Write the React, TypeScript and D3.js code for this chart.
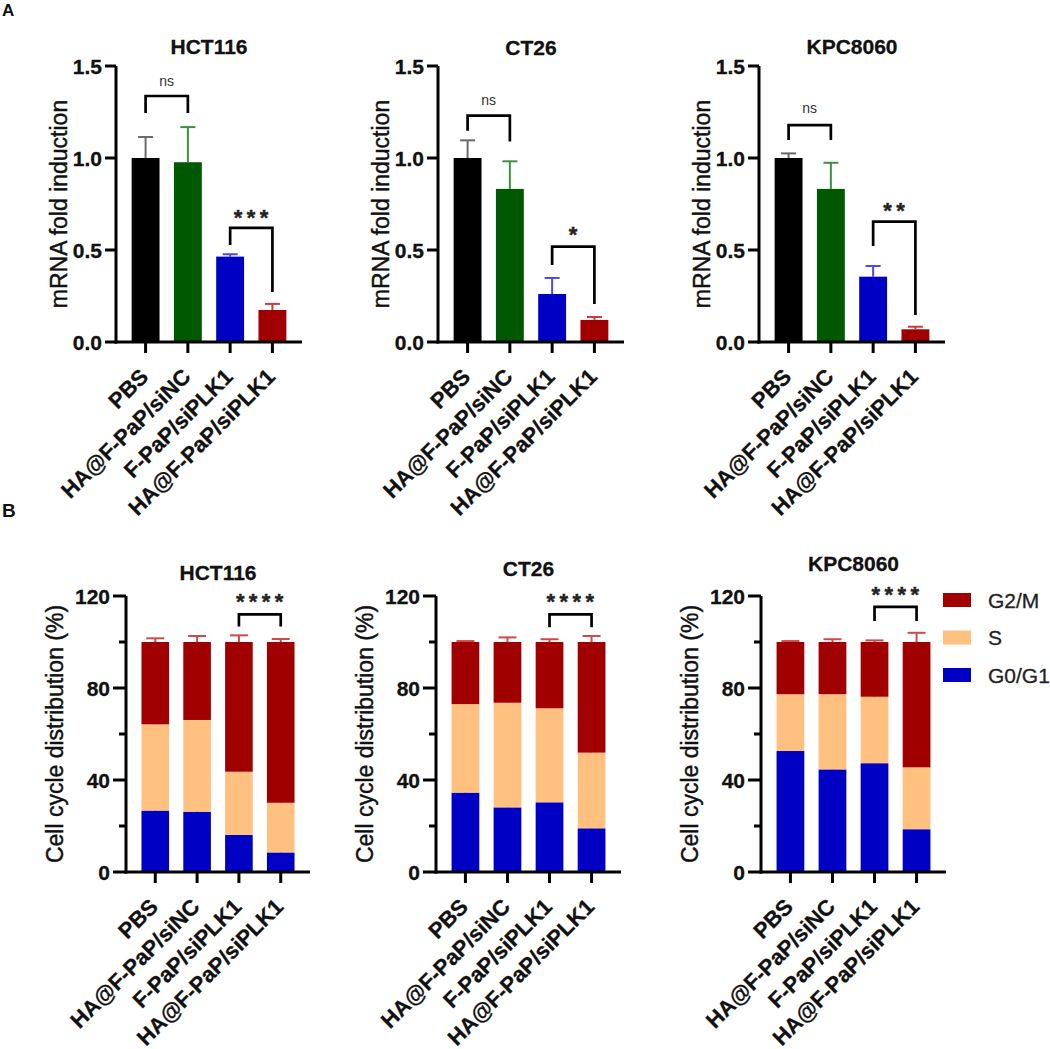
import React from 'react';
import * as d3 from 'd3';

// ---------- data ----------
const groups = ['PBS', 'HA@F-PaP/siNC', 'F-PaP/siPLK1', 'HA@F-PaP/siPLK1'];
const cellLines = ['HCT116', 'CT26', 'KPC8060'];

const barColors = ['#000000', '#005800', '#0000c4', '#a00000'];
const barErrColors = ['#6a6a6a', '#3f8f3f', '#4a4af0', '#cc3a3a'];

// Panel A: mRNA fold induction (mean, SD)
const mrnaHCT116 = [1.0, 0.977, 0.464, 0.174];
const mrnaHCT116SD = [0.114, 0.191, 0.013, 0.033];
const mrnaCT26 = [1.0, 0.832, 0.261, 0.12];
const mrnaCT26SD = [0.096, 0.15, 0.087, 0.016];
const mrnaKPC8060 = [1.0, 0.832, 0.355, 0.069];
const mrnaKPC8060SD = [0.025, 0.142, 0.058, 0.014];
const mrnaTicks = [0, 0.5, 1.0, 1.5];

// significance brackets panel A
const sigA_HCT116 = [
  { a: 0, b: 1, top: 1.337, l: 1.245, r: 1.245, ly: 1.42, label: 'ns' },
  { a: 2, b: 3, top: 0.62, l: 0.527, r: 0.272, ly: 0.70, label: '***' },
];
const sigA_CT26 = [
  { a: 0, b: 1, top: 1.23, l: 1.148, r: 1.089, ly: 1.315, label: 'ns' },
  { a: 2, b: 3, top: 0.518, l: 0.418, r: 0.207, ly: 0.609, label: '*' },
];
const sigA_KPC8060 = [
  { a: 0, b: 1, top: 1.179, l: 1.098, r: 1.098, ly: 1.27, label: 'ns' },
  { a: 2, b: 3, top: 0.654, l: 0.522, r: 0.147, ly: 0.739, label: '**' },
];

// Panel B: cell cycle distribution (%)
const phases = ['G0/G1', 'S', 'G2/M'];
const phaseColors = ['#0000c4', '#ffc080', '#a00000'];
const phaseErrColors = ['#5252e0', '#e89a5a', '#d04848'];

const hctG0 = [26.7, 26.2, 16.1, 8.5];
const hctG0SD = [1.3, 2.2, 1.0, 0.6];
const hctS = [37.5, 39.9, 27.5, 21.6];
const hctSSD = [1.1, 2.6, 3.4, 1.6];
const hctG2M = [35.8, 33.9, 56.4, 69.9];
const hctG2MSD = [1.6, 2.6, 2.9, 1.3];

const ct26G0 = [34.5, 28.1, 30.3, 19.0];
const ct26G0SD = [1.9, 1.0, 0.7, 2.4];
const ct26S = [38.5, 45.5, 40.9, 32.9];
const ct26SSD = [2.2, 2.9, 0.4, 2.9];
const ct26G2M = [27.0, 26.4, 28.8, 48.1];
const ct26G2MSD = [0.4, 2.0, 1.2, 2.6];

const kpcG0 = [52.6, 44.6, 47.3, 18.6];
const kpcG0SD = [1.4, 0.5, 1.7, 0.8];
const kpcS = [24.7, 32.7, 28.9, 26.9];
const kpcSSD = [1.4, 0.7, 1.8, 3.9];
const kpcG2M = [22.7, 22.7, 23.8, 54.5];
const kpcG2MSD = [0.4, 1.2, 0.7, 4.0];

const cycleTicks = [0, 40, 80, 120];
const cycleMinorTicks = [20, 60, 100];

const sigB_HCT116 = [{ a: 2, b: 3, top: 112, l: 106.7, r: 106.7, ly: 119.5, label: '****' }];
const sigB_CT26 = [{ a: 2, b: 3, top: 112, l: 106.4, r: 106.4, ly: 119.5, label: '****' }];
const sigB_KPC8060 = [{ a: 2, b: 3, top: 115.3, l: 109.1, r: 109.1, ly: 122.6, label: '****' }];

// ---------- layout ----------
const FONT = "'Liberation Sans', Arial, Helvetica, sans-serif";

const topLayout = [
  { x0: 116, x1: 302, y0: 66, y1: 342, titleY: 54 },
  { x0: 438, x1: 624, y0: 66, y1: 342, titleY: 55 },
  { x0: 759, x1: 945, y0: 66, y1: 342, titleY: 54 },
];
const bottomLayout = [
  { x0: 126, x1: 310, y0: 596, y1: 872, titleY: 580 },
  { x0: 436, x1: 621, y0: 596, y1: 872, titleY: 576 },
  { x0: 761, x1: 946, y0: 596, y1: 872, titleY: 571 },
];

const topData = [
  { mean: mrnaHCT116, sd: mrnaHCT116SD, sig: sigA_HCT116 },
  { mean: mrnaCT26, sd: mrnaCT26SD, sig: sigA_CT26 },
  { mean: mrnaKPC8060, sd: mrnaKPC8060SD, sig: sigA_KPC8060 },
];
const bottomData = [
  { vals: [hctG0, hctS, hctG2M], sds: [hctG0SD, hctSSD, hctG2MSD], sig: sigB_HCT116 },
  { vals: [ct26G0, ct26S, ct26G2M], sds: [ct26G0SD, ct26SSD, ct26G2MSD], sig: sigB_CT26 },
  { vals: [kpcG0, kpcS, kpcG2M], sds: [kpcG0SD, kpcSSD, kpcG2MSD], sig: sigB_KPC8060 },
];

function makeX(L: any) {
  return d3.scaleBand<string>().domain(groups).range([L.x0, L.x1]).paddingInner(0.34).paddingOuter(0.37);
}

function Axes({ L, x, y, ticks, minor, fmt, tickLen, ylabel, ylabelOff }: any) {
  return (
    <g>
      <line x1={L.x0} x2={L.x0} y1={L.y1 + 1.5} y2={L.y0} stroke="#000" strokeWidth={3} />
      <line x1={L.x0 - 1.5} x2={L.x1} y1={L.y1} y2={L.y1} stroke="#000" strokeWidth={3} />
      {ticks.map((t: number) => (
        <g key={t}>
          <line x1={L.x0 - tickLen} x2={L.x0} y1={y(t)} y2={y(t)} stroke="#000" strokeWidth={3} />
          <text x={L.x0 - tickLen - 3} y={y(t)} dy="0.36em" textAnchor="end" fontFamily={FONT}
            fontWeight="bold" fontSize={21} fill="#111" stroke="#111" strokeWidth={0.3}>{fmt(t)}</text>
        </g>
      ))}
      {(minor || []).map((t: number) => (
        <line key={'m' + t} x1={L.x0 - 7} x2={L.x0} y1={y(t)} y2={y(t)} stroke="#000" strokeWidth={3} />
      ))}
      {groups.map((g) => {
        const cx = (x(g) as number) + x.bandwidth() / 2;
        return (
          <g key={g}>
            <line x1={cx} x2={cx} y1={L.y1} y2={L.y1 + 11} stroke="#000" strokeWidth={3} />
            <text transform={`translate(${cx + 4},${L.y1 + 36}) rotate(-45)`} textAnchor="end"
              fontFamily={FONT} fontWeight="bold" fontSize={22} fill="#111" stroke="#111" strokeWidth={0.3}>{g}</text>
          </g>
        );
      })}
      <text transform={`translate(${L.x0 - ylabelOff},${(L.y0 + L.y1) / 2}) rotate(-90)`} textAnchor="middle"
        fontFamily={FONT} fontSize={23} fill="#111" stroke="#111" strokeWidth={0.45}>{ylabel}</text>
    </g>
  );
}

function Sig({ s, x, y }: any) {
  const xa = (x(groups[s.a]) as number) + x.bandwidth() / 2;
  const xb = (x(groups[s.b]) as number) + x.bandwidth() / 2;
  const isNs = s.label === 'ns';
  return (
    <g>
      <path d={`M${xa},${y(s.l)}V${y(s.top)}H${xb}V${y(s.r)}`} fill="none" stroke="#000" strokeWidth={2.7} />
      {isNs ? (
        <text x={(xa + xb) / 2} y={y(s.ly)} dy="0.35em" textAnchor="middle" fontFamily={FONT}
          fontSize={14} fill="#333">ns</text>
      ) : (
        <text x={(xa + xb) / 2 + 2} y={y(s.ly) + 12} textAnchor="middle" fontFamily={FONT}
          fontWeight="bold" fontSize={22} letterSpacing={4.4} fill="#222" stroke="#222" strokeWidth={0.4}>{s.label}</text>
      )}
    </g>
  );
}

function TopPanel({ i }: { i: number }) {
  const L = topLayout[i];
  const D = topData[i];
  const x = makeX(L);
  const y = d3.scaleLinear().domain([0, 1.5]).range([L.y1, L.y0]);
  const bw = x.bandwidth();
  return (
    <g>
      <text x={(L.x0 + L.x1) / 2} y={L.titleY} textAnchor="middle" fontFamily={FONT} fontWeight="bold"
        fontSize={21} fill="#111" stroke="#111" strokeWidth={0.3}>{cellLines[i]}</text>
      {groups.map((g, j) => {
        const bx = x(g) as number;
        const cx = bx + bw / 2;
        return (
          <g key={g}>
            <line x1={cx} x2={cx} y1={y(D.mean[j])} y2={y(D.mean[j] + D.sd[j])} stroke={barErrColors[j]} strokeWidth={2} />
            <line x1={cx - 7.5} x2={cx + 7.5} y1={y(D.mean[j] + D.sd[j])} y2={y(D.mean[j] + D.sd[j])} stroke={barErrColors[j]} strokeWidth={2} />
            <rect x={bx} width={bw} y={y(D.mean[j])} height={y(0) - y(D.mean[j])} fill={barColors[j]} />
          </g>
        );
      })}
      <Axes L={L} x={x} y={y} ticks={mrnaTicks} fmt={d3.format('.1f')} tickLen={11}
        ylabel="mRNA fold induction" ylabelOff={49} />
      {D.sig.map((s: any, k: number) => <Sig key={k} s={s} x={x} y={y} />)}
    </g>
  );
}

function BottomPanel({ i }: { i: number }) {
  const L = bottomLayout[i];
  const D = bottomData[i];
  const x = makeX(L);
  const y = d3.scaleLinear().domain([0, 120]).range([L.y1, L.y0]);
  const bw = x.bandwidth();
  const rows = groups.map((g, j) => {
    const r: any = { group: g };
    phases.forEach((p, k) => { r[p] = D.vals[k][j]; });
    return r;
  });
  const stacked = d3.stack<any>().keys(phases)(rows);
  return (
    <g>
      <text x={(L.x0 + L.x1) / 2} y={L.titleY} textAnchor="middle" fontFamily={FONT} fontWeight="bold"
        fontSize={21} fill="#111" stroke="#111" strokeWidth={0.3}>{cellLines[i]}</text>
      {stacked.map((series, k) => (
        <g key={phases[k]}>
          {series.map((d, j) => {
            const bx = x(groups[j]) as number;
            const cx = bx + bw / 2;
            const e = d[1] + D.sds[k][j];
            return (
              <g key={j}>
                <line x1={cx} x2={cx} y1={y(d[1])} y2={y(e)} stroke={phaseErrColors[k]} strokeWidth={2} />
                <line x1={cx - 9} x2={cx + 9} y1={y(e)} y2={y(e)} stroke={phaseErrColors[k]} strokeWidth={2} />
                <rect x={bx} width={bw} y={y(d[1])} height={y(d[0]) - y(d[1])} fill={phaseColors[k]} />
              </g>
            );
          })}
        </g>
      ))}
      <Axes L={L} x={x} y={y} ticks={cycleTicks} minor={cycleMinorTicks} fmt={d3.format('d')} tickLen={13}
        ylabel="Cell cycle distribution (%)" ylabelOff={63} />
      {D.sig.map((s: any, k: number) => <Sig key={k} s={s} x={x} y={y} />)}
    </g>
  );
}

function Legend() {
  const order = [2, 1, 0];
  return (
    <g>
      {order.map((k, n) => (
        <g key={k} transform={`translate(943,${593 + n * 37.5})`}>
          <rect width={28} height={14} fill={phaseColors[k]} />
          <text x={45} y={7} dy="0.36em" fontFamily={FONT} fontSize={21} fill="#222" stroke="#222" strokeWidth={0.3}>{phases[k]}</text>
        </g>
      ))}
    </g>
  );
}

export default function App() {
  return (
    <svg width={1050} height={1049} viewBox="0 0 1050 1049"
      style={{ position: 'absolute', left: 0, top: 0, background: '#fff', display: 'block' }}>
      <rect width={1050} height={1049} fill="#fff" />
      <text x={2} y={16} fontFamily={FONT} fontWeight="bold" fontSize={17} fill="#111">A</text>
      <text x={2} y={517} fontFamily={FONT} fontWeight="bold" fontSize={19} fill="#111">B</text>
      {[0, 1, 2].map((i) => <TopPanel key={'t' + i} i={i} />)}
      {[0, 1, 2].map((i) => <BottomPanel key={'b' + i} i={i} />)}
      <Legend />
    </svg>
  );
}
